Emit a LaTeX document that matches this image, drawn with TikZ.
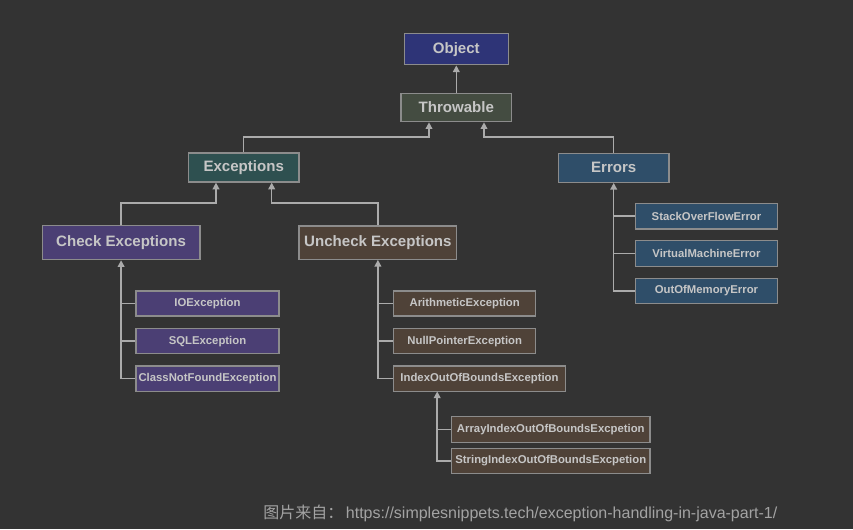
\documentclass[tikz,border=0pt]{standalone}
\usepackage{fontspec}
\setmainfont{Liberation Sans}
\newfontfamily\cjkfont{Noto Sans CJK SC}
\usetikzlibrary{arrows.meta,calc}
\definecolor{bgc}{HTML}{333333}
\definecolor{bordc}{HTML}{8C8C8C}
\definecolor{txtc}{HTML}{C6C6C6}
\definecolor{linec}{HTML}{ABABAB}
\definecolor{objc}{HTML}{2E3477}
\definecolor{thrc}{HTML}{444C41}
\definecolor{excc}{HTML}{2E5050}
\definecolor{errc}{HTML}{2F4E69}
\definecolor{chkc}{HTML}{4B3F74}
\definecolor{unc}{HTML}{4F4238}
\definecolor{footc}{HTML}{A3A3A3}
\tikzset{
  box/.style={draw=bordc, line width=0.9pt, text=txtc, inner sep=0pt, font=\bfseries\fontsize{11.3}{13}\selectfont},
  sbox/.style={draw=bordc, line width=0.9pt, text=txtc, inner sep=0pt, font=\bfseries\fontsize{8.5}{10}\selectfont},
  arr/.style={draw=linec, line width=1.1pt, -{Triangle[length=5pt,width=5pt]}},
  ln/.style={draw=linec, line width=1.1pt},
}
\begin{document}
\begin{tikzpicture}[x=0.75pt,y=-0.75pt]
\fill[bgc] (0,0) rectangle (853,529);
\useasboundingbox (0,0) rectangle (853,529);
% level boxes
\node[box, fill=objc, minimum width=104*0.75pt, minimum height=31*0.75pt] (obj) at (456.3,49.3) {Object};
\node[box, fill=thrc, minimum width=110.7*0.75pt, minimum height=28.4*0.75pt] (thr) at (456.3,107.5) {Throwable};
\node[box, fill=excc, minimum width=110.7*0.75pt, minimum height=29*0.75pt] (exc) at (243.7,167.5) {Exceptions};
\node[box, fill=errc, minimum width=110.7*0.75pt, minimum height=29*0.75pt] (err) at (613.7,167.8) {Errors};
\node[box, fill=chkc, minimum width=157.7*0.75pt, minimum height=34*0.75pt] (chk) at (121.1,242.6) {Check Exceptions};
\node[box, fill=unc, minimum width=157.7*0.75pt, minimum height=33.3*0.75pt] (unchk) at (377.9,242.6) {Uncheck Exceptions};
% error children
\node[sbox, fill=errc, minimum width=141.6*0.75pt, minimum height=25.7*0.75pt] (soe) at (706.5,216.2) {StackOverFlowError};
\node[sbox, fill=errc, minimum width=141.6*0.75pt, minimum height=25.7*0.75pt] (vme) at (706.5,253.6) {VirtualMachineError};
\node[sbox, fill=errc, minimum width=141.6*0.75pt, minimum height=25.7*0.75pt] (oom) at (706.5,291.0) {OutOfMemoryError};
% check children
\node[sbox, fill=chkc, minimum width=143*0.75pt, minimum height=25*0.75pt] (ioe) at (207.5,303.4) {IOException};
\node[sbox, fill=chkc, minimum width=143*0.75pt, minimum height=25*0.75pt] (sqle) at (207.5,341.2) {SQLException};
\node[sbox, fill=chkc, minimum width=143*0.75pt, minimum height=25.3*0.75pt] (cnfe) at (207.5,378.7) {ClassNotFoundException};
% uncheck children
\node[sbox, fill=unc, minimum width=142*0.75pt, minimum height=25*0.75pt] (arie) at (464.7,303.5) {ArithmeticException};
\node[sbox, fill=unc, minimum width=142*0.75pt, minimum height=25*0.75pt] (npe) at (464.7,341.2) {NullPointerException};
\node[sbox, fill=unc, minimum width=171.6*0.75pt, minimum height=25.3*0.75pt] (ioobe) at (479.5,378.7) {IndexOutOfBoundsException};
% index children
\node[sbox, fill=unc, minimum width=198.3*0.75pt, minimum height=25.6*0.75pt] (aioobe) at (550.8,429.5) {ArrayIndexOutOfBoundsExcpetion};
\node[sbox, fill=unc, minimum width=198.3*0.75pt, minimum height=25*0.75pt] (sioobe) at (550.8,460.8) {StringIndexOutOfBoundsExcpetion};
% connectors
\draw[arr] (thr.north) -- (obj.south);
\coordinate (tL) at ($(thr.south)+(-27.3,0)$);
\coordinate (tR) at ($(thr.south)+(27.7,0)$);
\draw[arr] (exc.north) |- ++(0,-15.5) -| (tL);
\draw[arr] (err.north) |- ++(0,-15.5) -| (tR);
\coordinate (eL) at ($(exc.south)+(-27.7,0)$);
\coordinate (eR) at ($(exc.south)+(28,0)$);
\draw[arr] (chk.north) |- ++(0,-22) -| (eL);
\draw[arr] (unchk.north) |- ++(0,-22.3) -| (eR);
% error tree
\draw[arr] (oom.west) -| (err.south);
\draw[ln] (soe.west) -- (soe.west -| err.south);
\draw[ln] (vme.west) -- (vme.west -| err.south);
% check tree
\draw[arr] (cnfe.west) -| (chk.south);
\draw[ln] (ioe.west) -- (ioe.west -| chk.south);
\draw[ln] (sqle.west) -- (sqle.west -| chk.south);
% uncheck tree
\draw[arr] (ioobe.west) -| (unchk.south);
\draw[ln] (arie.west) -- (arie.west -| unchk.south);
\draw[ln] (npe.west) -- (npe.west -| unchk.south);
% index tree
\coordinate (iB) at (437.2,391.4);
\draw[arr] (sioobe.west) -| (iB);
\draw[ln] (aioobe.west) -- (aioobe.west -| iB);
% footer
\node[anchor=west, text=footc, inner sep=0pt, font=\fontsize{12}{14}\selectfont] (foot) at (263,513.5) {{\cjkfont 图片来自：}\,https://simplesnippets.tech/exception-handling-in-java-part-1/};
\end{tikzpicture}
\end{document}
